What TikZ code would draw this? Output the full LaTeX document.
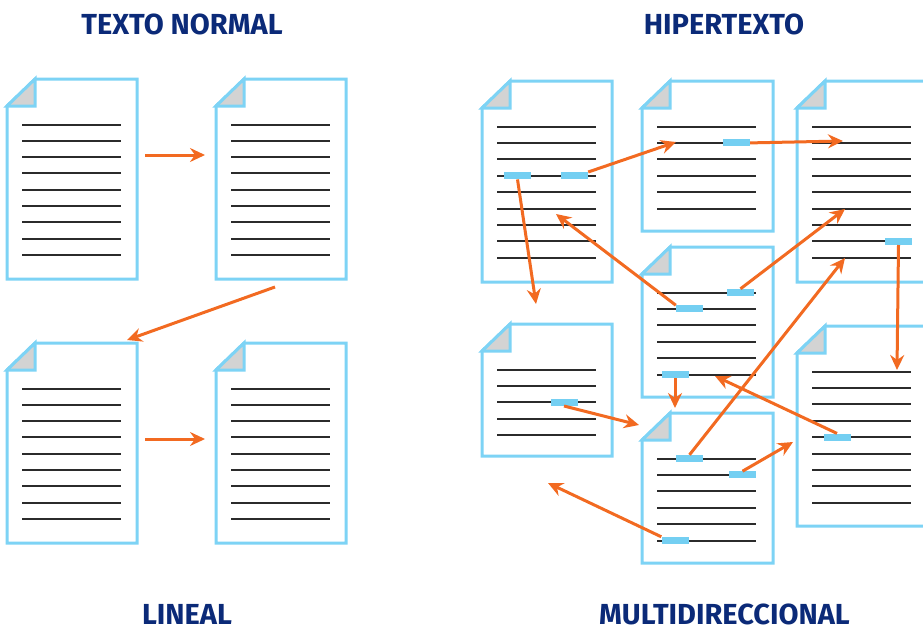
\documentclass[tikz,border=0pt]{standalone}
\usepackage{fontspec}
\setmainfont{Fira Sans}
\usetikzlibrary{arrows.meta}
\definecolor{pageblue}{HTML}{7DD3F5}
\definecolor{hlblue}{HTML}{74CFF2}
\definecolor{foldgray}{HTML}{D3D3D3}
\definecolor{arroworange}{HTML}{F26A21}
\definecolor{titleblue}{HTML}{0B2A78}
\definecolor{textgray}{HTML}{2B2B2B}
\tikzset{
  pageedge/.style={draw=pageblue, line width=3pt, line join=miter},
  textline/.style={draw=textgray, line width=2pt},
  hl/.style={rectangle, fill=hlblue, minimum width=27pt, minimum height=7pt, inner sep=0pt},
  link/.style={draw=arroworange, line width=3pt, -{Stealth[length=15pt,width=14pt,inset=5pt]}},
  titletext/.style={font=\bfseries\fontsize{29}{29}\selectfont, text=titleblue, inner sep=0pt, anchor=base, text depth=0pt}
}
% #1 left, #2 top, #3 right, #4 bottom, #5 number of lines, #6 line spacing
\newcommand{\docpage}[6]{%
  \fill[white] (#1,{#2+27}) -- ({#1+28},#2) -- (#3,#2) -- (#3,#4) -- (#1,#4) -- cycle;
  \foreach \i in {1,...,#5} \draw[textline] ({#1+15},{#2+45.5+(\i-1)*#6}) -- ({#1+114},{#2+45.5+(\i-1)*#6});
  \draw[pageedge] (#1,{#2+27}) -- ({#1+28},#2) -- (#3,#2) -- (#3,#4) -- (#1,#4) -- cycle;
  \filldraw[pageedge, fill=foldgray] (#1,{#2+27}) -- ({#1+28},#2) -- ({#1+28},{#2+27}) -- cycle;
}
\begin{document}
\begin{tikzpicture}[x=1pt, y=-1pt]
\useasboundingbox (0,0) rectangle (923,629);
% titles
\node[titletext] (tn) at (182,34) {TEXTO NORMAL};
\node[titletext] (ht) at (724,34) {HIPERTEXTO};
\node[titletext] (li) at (187,624) {LINEAL};
\node[titletext] (mu) at (724.5,624) {MULTIDIRECCIONAL};
% left pages
\docpage{7}{79}{137}{279}{9}{16.3}
\docpage{216}{79}{346}{279}{9}{16.3}
\docpage{7}{343}{137}{543}{9}{16.3}
\docpage{216}{343}{346}{543}{9}{16.3}
% right pages
\docpage{482}{81}{612}{282}{9}{16.4}
\docpage{642}{81}{773}{231}{6}{16.4}
\docpage{797}{81}{927}{282}{9}{16.4}
\docpage{642}{247}{773}{397}{6}{16.4}
\docpage{482}{324}{612}{456}{5}{16.4}
\docpage{642}{413}{773}{563}{6}{16.4}
\docpage{797}{326}{927}{526}{9}{16.4}
% highlights
\node[hl] (h1a) at (517.5,175.7) {};
\node[hl] (h1b) at (574.5,175.7) {};
\node[hl] (h2) at (736.5,142.9) {};
\node[hl] (h3) at (898.5,241.3) {};
\node[hl] (h4a) at (740.5,292.5) {};
\node[hl] (h4b) at (689.5,308.9) {};
\node[hl] (h4c) at (675,374.5) {};
\node[hl] (h5) at (564,402.3) {};
\node[hl] (h6a) at (689.5,458.5) {};
\node[hl] (h6b) at (742.5,474.9) {};
\node[hl] (h6c) at (675,540.5) {};
\node[hl] (h7) at (837,437.1) {};
% arrow endpoints
\coordinate (la1s) at (145,155); \coordinate (la1e) at (205,155);
\coordinate (la2s) at (275,287); \coordinate (la2e) at (127,340);
\coordinate (la3s) at (145,439); \coordinate (la3e) at (205,439);
\coordinate (e1) at (676,142);
\coordinate (e2) at (536,304);
\coordinate (e3) at (843,141);
\coordinate (e4) at (845,209);
\coordinate (e5) at (556,214);
\coordinate (e6) at (675,408);
\coordinate (e7) at (639,425);
\coordinate (e8) at (845,258);
\coordinate (e9) at (793,442);
\coordinate (e10) at (548,483);
\coordinate (e11) at (715,376);
\coordinate (e12) at (897,370);
% arrows
\draw[link] (la1s) -- (la1e);
\draw[link] (la2s) -- (la2e);
\draw[link] (la3s) -- (la3e);
\draw[link] (h1b.north east) -- (e1);
\draw[link] (h1a.south) -- (e2);
\draw[link] (h2.east) -- (e3);
\draw[link] (h4a.north) -- (e4);
\draw[link] (h4b.north west) -- (e5);
\draw[link] (h4c.south) -- (e6);
\draw[link] (h5.south) -- (e7);
\draw[link] (h6a.north) -- (e8);
\draw[link] (h6b.north) -- (e9);
\draw[link] (h6c.north west) -- (e10);
\draw[link] (h7.north) -- (e11);
\draw[link] (h3.south) -- (e12);
\end{tikzpicture}
\end{document}
